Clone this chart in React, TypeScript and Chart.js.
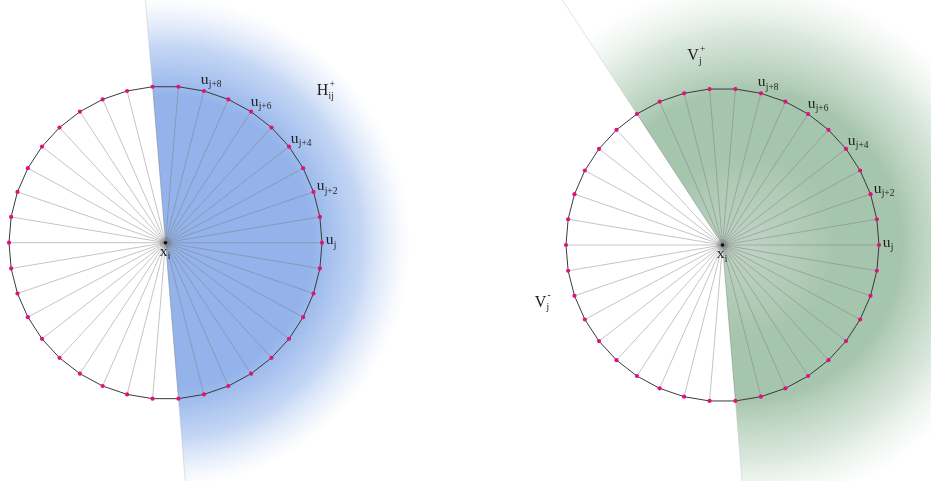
import { useEffect, useRef } from "react";
import { Chart, registerables } from "chart.js";

Chart.register(...registerables);

// ---- figure data ----
const VERTEX_COUNT = 38;
const RADIUS = 156.5;
const CENTER_X = [165.5, 722.5];
const CENTER_Y = [242.7, 245];
const CENTER_MAIN = ["x", "x"];
const CENTER_SUB = ["i", "i"];
const LABELLED_VERTICES = [0, 2, 4, 6, 8];
const VERTEX_MAIN = ["u", "u", "u", "u", "u"];
const VERTEX_SUB = ["j", "j+2", "j+4", "j+6", "j+8"];
// shaded wedge of each figure: from vertex index, counter-clockwise to vertex index
const WEDGE_FROM = [29, 29];
const WEDGE_TO = [10, 13];
const WEDGE_FADE = [245, 265];
const FADE_SHIFT = [0, 25];
const REGION_MAIN = ["H", "V", "V"];
const REGION_SUB = ["ij", "j", "j"];
const REGION_SUP = ["+", "+", "-"];
const REGION_X = [322.5, 693, 540.5];
const REGION_Y = [95, 60, 306.5];

// ---- geometry helpers ----
const STEP = (2 * Math.PI) / VERTEX_COUNT;
const vAngle = (k: number) => k * STEP;
const vertex = (c: number, k: number, r = RADIUS) => ({
  x: CENTER_X[c] + r * Math.cos(vAngle(k)),
  y: CENTER_Y[c] - r * Math.sin(vAngle(k)),
});
const GAP = { x: null as any, y: null as any };

function buildData() {
  const spokes: any[] = [];
  const outline: any[] = [];
  const dots: any[] = [];
  const edges: any[] = [];
  const centers: any[] = [];
  for (let c = 0; c < CENTER_X.length; c++) {
    const ctr = { x: CENTER_X[c], y: CENTER_Y[c] };
    centers.push(ctr);
    for (let k = 0; k < VERTEX_COUNT; k++) {
      const v = vertex(c, k);
      spokes.push(ctr, v, GAP);
      outline.push(v);
      dots.push(v);
    }
    outline.push(vertex(c, 0), GAP);
    for (const k of [WEDGE_FROM[c], WEDGE_TO[c]]) {
      edges.push(vertex(c, k), vertex(c, k, 360), GAP);
    }
  }
  return { spokes, outline, dots, edges, centers };
}

const SERIF = '"Liberation Serif", "Times New Roman", "DejaVu Serif", serif';

function drawLabel(
  ctx: CanvasRenderingContext2D,
  cx: number,
  baseY: number,
  main: string,
  sub: string,
  sup: string,
  mainSize: number,
  subSize: number
) {
  ctx.textAlign = "left";
  ctx.textBaseline = "alphabetic";
  ctx.fillStyle = "#1e1e1e";
  ctx.font = `${mainSize}px ${SERIF}`;
  const w = ctx.measureText(main).width;
  ctx.fillText(main, cx - w / 2, baseY);
  ctx.font = `${subSize}px ${SERIF}`;
  if (sub) ctx.fillText(sub, cx + w / 2 + 0.3, baseY + 3.5);
  if (sup) ctx.fillText(sup, cx + w / 2 + 1.2, baseY - 8.5);
}

const shadingPlugin = {
  id: "wedgeShading",
  beforeDatasetsDraw(chart: any) {
    const { ctx, scales } = chart;
    const xs = scales.x;
    const ys = scales.y;
    const colors = [
      [
        [0, "rgba(147,179,234,1)"],
        [0.6, "rgba(147,179,234,1)"],
        [0.8, "rgba(170,196,240,0.7)"],
        [1, "rgba(200,218,246,0)"],
      ],
      [
        [0, "rgba(176,200,182,0.8)"],
        [0.35, "rgba(166,197,173,1)"],
        [0.58, "rgba(166,197,173,1)"],
        [0.8, "rgba(190,214,195,0.6)"],
        [1, "rgba(220,234,222,0)"],
      ],
    ];
    for (let c = 0; c < CENTER_X.length; c++) {
      const cx = xs.getPixelForValue(CENTER_X[c]);
      const cy = ys.getPixelForValue(CENTER_Y[c]);
      const gx = xs.getPixelForValue(CENTER_X[c] + FADE_SHIFT[c]);
      const rPx = Math.abs(xs.getPixelForValue(CENTER_X[c] + WEDGE_FADE[c]) - cx);
      const g = ctx.createRadialGradient(gx, cy, 0, gx, cy, rPx);
      for (const [o, col] of colors[c]) g.addColorStop(o as number, col as string);
      ctx.save();
      ctx.beginPath();
      ctx.moveTo(cx, cy);
      ctx.arc(cx, cy, rPx * 1.8, -vAngle(WEDGE_FROM[c]), -vAngle(WEDGE_TO[c]), true);
      ctx.closePath();
      ctx.fillStyle = g;
      ctx.fill();
      ctx.restore();
    }
  },
};

const labelPlugin = {
  id: "diagramLabels",
  afterDatasetsDraw(chart: any) {
    const { ctx, scales } = chart;
    const xs = scales.x;
    const ys = scales.y;
    ctx.save();
    for (let c = 0; c < CENTER_X.length; c++) {
      LABELLED_VERTICES.forEach((k, i) => {
        const p = vertex(c, k, RADIUS + 9);
        const px = xs.getPixelForValue(p.x) - 1.5;
        const py = ys.getPixelForValue(p.y) - 2 + 3.5;
        drawLabel(ctx, px, py, VERTEX_MAIN[i], VERTEX_SUB[i], "", 15.5, 9.5);
      });
      const cx = xs.getPixelForValue(CENTER_X[c]) - 2;
      const cy = ys.getPixelForValue(CENTER_Y[c]) + 13;
      drawLabel(ctx, cx, cy, CENTER_MAIN[c], CENTER_SUB[c], "", 15.5, 9.5);
    }
    REGION_MAIN.forEach((m, i) => {
      drawLabel(
        ctx,
        xs.getPixelForValue(REGION_X[i]),
        ys.getPixelForValue(REGION_Y[i]),
        m,
        REGION_SUB[i],
        REGION_SUP[i],
        16,
        9.5
      );
    });
    ctx.restore();
  },
};

export default function App() {
  const ref = useRef<HTMLCanvasElement | null>(null);
  useEffect(() => {
    document.body.style.margin = "0";
    const canvas = ref.current;
    if (!canvas) return;
    const d = buildData();
    const chart = new Chart(canvas, {
      type: "scatter",
      data: {
        datasets: [
          {
            label: "center-dot",
            data: d.centers,
            pointRadius: 1.8,
            pointBackgroundColor: "#111",
            pointBorderWidth: 0,
            showLine: false,
            order: 0,
          },
          {
            label: "center-glow",
            data: d.centers,
            pointRadius: 6,
            pointBackgroundColor: "rgba(80,80,80,0.15)",
            pointBorderWidth: 0,
            showLine: false,
            order: 1,
          },
          {
            label: "vertices",
            data: d.dots,
            pointRadius: 2.1,
            pointBackgroundColor: "#e0127a",
            pointBorderWidth: 0,
            showLine: false,
            order: 2,
          },
          {
            label: "outline",
            data: d.outline,
            showLine: true,
            spanGaps: false,
            borderColor: "#3a3a3a",
            borderWidth: 1,
            pointRadius: 0,
            order: 3,
          },
          {
            label: "spokes",
            data: d.spokes,
            showLine: true,
            spanGaps: false,
            borderColor: "rgba(120,120,120,0.55)",
            borderWidth: 0.8,
            pointRadius: 0,
            order: 4,
          },
          {
            label: "edges",
            data: d.edges,
            showLine: true,
            spanGaps: false,
            borderColor: "rgba(190,190,190,0.55)",
            borderWidth: 0.8,
            pointRadius: 0,
            order: 5,
          },
        ],
      },
      options: {
        responsive: false,
        animation: false,
        events: [],
        layout: { padding: 0, autoPadding: false },
        plugins: {
          legend: { display: false },
          tooltip: { enabled: false },
          title: { display: false },
        },
        scales: {
          x: { type: "linear", min: 0, max: 931, display: false },
          y: { type: "linear", min: 0, max: 481, reverse: true, display: false },
        },
      },
      plugins: [shadingPlugin, labelPlugin],
    } as any);
    return () => chart.destroy();
  }, []);
  return (
    <div style={{ width: 931, height: 481, background: "#fff" }}>
      <canvas ref={ref} width={931} height={481} style={{ display: "block" }} />
    </div>
  );
}
